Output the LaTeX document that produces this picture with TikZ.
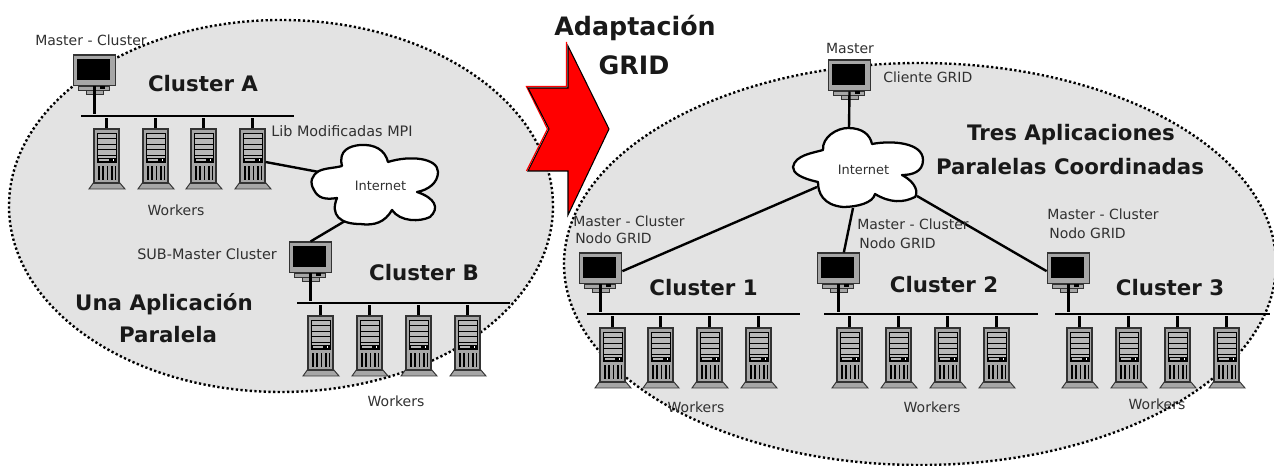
\documentclass[tikz,border=0pt]{standalone}
\usepackage{fontspec}
\setmainfont{DejaVu Sans}
\definecolor{ellgray}{HTML}{E3E3E3}
\definecolor{devgray}{HTML}{A6A6A6}
\definecolor{slat}{HTML}{B8B8B8}
\definecolor{outl}{HTML}{333333}
\definecolor{txt}{HTML}{303030}
\tikzset{
  zone/.style={fill=ellgray,draw=black,line width=1.8pt,dash pattern=on 1.7pt off 1.8pt},
  link/.style={draw=black,line width=1.8pt},
  cloudshape/.style={fill=white,draw=black,line width=1.7pt,line join=round},
  busbar/.style={fill=black,draw=none,inner sep=0pt,minimum height=2pt},
  small/.style={font=\fontsize{10.5pt}{12pt}\selectfont,text=txt,inner sep=0pt},
  smaller/.style={font=\fontsize{9.7pt}{12pt}\selectfont,text=txt,inner sep=0pt},
  wider/.style={font=\fontsize{10.8pt}{12pt}\selectfont,text=txt,inner sep=0pt},
  big/.style={font=\fontsize{16pt}{18pt}\selectfont\bfseries,text=black!90,inner sep=0pt},
  huge/.style={font=\fontsize{19pt}{21pt}\selectfont\bfseries,text=black!90,inner sep=0pt},
  devbody/.style={fill=devgray,draw=outl,line width=0.8pt,inner sep=0pt}
}
\newcommand{\compnode}[3]{%
  \begin{scope}[shift={(#2,#3)}]
    \fill[devgray,draw=outl,line width=0.7pt] (5.5,31) rectangle (36.5,35);
    \fill[black] (27,31) rectangle (32,34);
    \fill[devgray,draw=outl,line width=0.7pt] (13,35) rectangle (30,39);
    \node[devbody,minimum width=32pt,minimum height=23.2pt] (#1) at (21.5,15.5) {};
    \fill[black] (4,4.5) rectangle (37,25);
  \end{scope}}
\newcommand{\servnode}[3]{%
  \begin{scope}[shift={(#2,#3)}]
    \fill[devgray,draw=outl,line width=0.7pt] (-5,60) -- (0,53) -- (25,53) -- (31,60) -- cycle;
    \node[devbody,minimum width=18.75pt,minimum height=40.5pt] (#1) at (12.5,27) {};
    \fill[slat,draw=black,line width=0.7pt] (3.5,4) rectangle (22.5,33);
    \foreach \yy in {9.5,15,20.5,26}{\draw[black,line width=0.7pt] (3.5,\yy) -- (22.5,\yy);}
    \fill[black] (3.5,29) rectangle (22.5,33);
    \fill[slat] (5,30) rectangle (15,32);
    \fill[white] (18.5,30.5) rectangle (20,32);
    \foreach \xx in {4.5,8.8,13.1,17.4,21}{\fill[black] (\xx-0.4,37) rectangle (\xx+1.1,51);}
  \end{scope}}
\begin{document}
\begin{tikzpicture}[x=0.75pt,y=-0.75pt]
\useasboundingbox (0,0) rectangle (1274,466);
% zones
\path[zone] (281,206) ellipse [x radius=272,y radius=186];
\path[zone] (920,264) ellipse [x radius=356,y radius=201];
% buses
\node[busbar,minimum width=160pt] (busA) at (187.5,116) {};
\node[busbar,minimum width=160pt] (busB) at (403.5,303) {};
\node[busbar,minimum width=160pt] (bus1) at (693.5,314) {};
\node[busbar,minimum width=160pt] (bus2) at (931,314) {};
\node[busbar,minimum width=161pt] (bus3) at (1162.5,314) {};
% devices
\compnode{mA}{73}{55}
\compnode{mB}{289}{242}
\compnode{mG}{828}{60}
\compnode{m1}{579}{253}
\compnode{m2}{817}{253}
\compnode{m3}{1047}{253}
\foreach \n/\x in {1/94,2/143,3/191,4/240}{\servnode{sA\n}{\x}{129}}
\foreach \n/\x in {1/308,2/357,3/406,4/455}{\servnode{sB\n}{\x}{316}}
\foreach \n/\x in {1/600,2/648,3/697,4/746}{\servnode{sI\n}{\x}{328}}
\foreach \n/\x in {1/837,2/886,3/935,4/984}{\servnode{sII\n}{\x}{328}}
\foreach \n/\x in {1/1067,2/1116,3/1165,4/1214}{\servnode{sIII\n}{\x}{328}}
% connector ends on clouds
\coordinate (cLw) at (319,172);
\coordinate (cLs) at (345,221);
\coordinate (cRn) at (849,128);
\coordinate (cRw) at (817,187);
\coordinate (cRs) at (853,208);
\coordinate (cRe) at (917,196);
% connectors
\draw[link] (mA.south) -- (mA.south |- busA.north);
\draw[link] (mB.south) -- (mB.south |- busB.north);
\draw[link] (m1.south) -- (m1.south |- bus1.north);
\draw[link] (m2.south) -- (m2.south |- bus2.north);
\draw[link] (m3.south) -- (m3.south |- bus3.north);
\foreach \n in {1,2,3,4}{
  \draw[link] (sA\n.north) -- (sA\n.north |- busA.south);
  \draw[link] (sB\n.north) -- (sB\n.north |- busB.south);
  \draw[link] (sI\n.north) -- (sI\n.north |- bus1.south);
  \draw[link] (sII\n.north) -- (sII\n.north |- bus2.south);
  \draw[link] (sIII\n.north) -- (sIII\n.north |- bus3.south);
}
\draw[link] ([yshift=-4.5pt]sA4.east) -- (cLw);
\draw[link] (cLs) -- (mB.north);
\draw[link] (mG.south) -- (cRn);
\draw[link] (cRw) -- ([yshift=-2pt]m1.east);
\draw[link] (cRs) -- ([xshift=4pt]m2.north);
\draw[link] (cRe) -- ([yshift=-2pt]m3.west);
% clouds
\draw[cloudshape] (319,171) .. controls (325,168) and (335,168) .. (342,166)
  .. controls (338,150) and (350,146) .. (360,145) .. controls (375,144) and (385,150) .. (388,162)
  .. controls (410,155) and (438,158) .. (438,172) .. controls (438,183) and (428,190) .. (417,192)
  .. controls (435,198) and (440,208) .. (430,217) .. controls (420,222) and (400,222) .. (392,210)
  .. controls (385,222) and (375,226) .. (360,224) .. controls (340,224) and (330,215) .. (337,198)
  .. controls (325,200) and (318,198) .. (314,190) .. controls (309,182) and (312,175) .. cycle;
\draw[cloudshape] (823,150) .. controls (822,137) and (837,128) .. (848,128)
  .. controls (863,128) and (870,135) .. (872,144) .. controls (893,140) and (923,143) .. (923,160)
  .. controls (923,172) and (912,175) .. (902,175) .. controls (917,183) and (918,193) .. (915,197)
  .. controls (903,203) and (890,203) .. (875,194) .. controls (873,203) and (857,207) .. (843,207)
  .. controls (823,205) and (818,193) .. (818,182) .. controls (800,178) and (793,173) .. (793,167)
  .. controls (795,155) and (813,153) .. cycle;
% red arrow
\draw[red,line width=0.9pt,line join=miter] (566.5,42) -- (566.5,86.5) -- (526.5,86.5) -- (547.5,129) -- (526.5,171);
\draw[fill=red,draw=black,line width=0.8pt,line join=miter] (568,46) -- (568,88) -- (528,88) -- (549,129) -- (528,171) -- (568,171) -- (568,215) -- (609,129) -- cycle;
% texts
\node[small,anchor=west] (t1) at (35,40) {Master - Cluster};
\node[big] (t2) at (203,84) {Cluster A};
\node[wider,anchor=west] (t3) at (271,131) {Lib Modificadas MPI};
\node[smaller] (t4) at (380.5,186) {Internet};
\node[small] (t5) at (176,210) {Workers};
\node[wider,anchor=west] (t6) at (137,254) {SUB-Master Cluster};
\node[big] (t7) at (424,273) {Cluster B};
\node[big] (t8) at (164,304) {Una Aplicación};
\node[big] (t9) at (168,335) {Paralela};
\node[small] (t10) at (396,401) {Workers};
\node[huge] (t11) at (635,28) {Adaptación};
\node[huge] (t12) at (634,65) {GRID};
\node[small] (t13) at (850,49) {Master};
\node[small,anchor=west] (t14) at (883,77) {Cliente GRID};
\node[big] (t15) at (1071,135) {Tres Aplicaciones};
\node[big] (t16) at (1070,167) {Paralelas Coordinadas};
\node[smaller] (t17) at (863.5,170) {Internet};
\node[small,anchor=west] (t18) at (573,221) {Master - Cluster};
\node[small,anchor=west] (t19) at (575,238) {Nodo GRID};
\node[small,anchor=west] (t20) at (857,224) {Master - Cluster};
\node[small,anchor=west] (t21) at (859,243) {Nodo GRID};
\node[small,anchor=west] (t22) at (1047,214) {Master - Cluster};
\node[small,anchor=west] (t23) at (1049,233) {Nodo GRID};
\node[big] (t24) at (703.5,288) {Cluster 1};
\node[big] (t25) at (944,285) {Cluster 2};
\node[big] (t26) at (1170,288) {Cluster 3};
\node[small] (t27) at (696,407) {Workers};
\node[small] (t28) at (932,407) {Workers};
\node[small] (t29) at (1157,404) {Workers};
\end{tikzpicture}
\end{document}
